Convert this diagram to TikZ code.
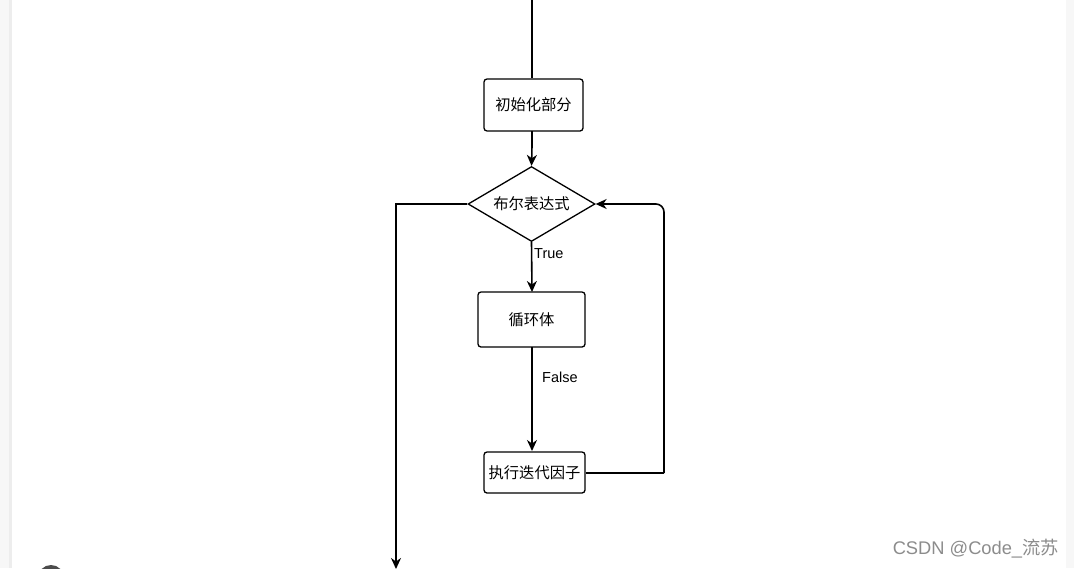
\documentclass[tikz,border=0pt]{standalone}
\usepackage{fontspec}
\setmainfont{Liberation Sans}
\newfontfamily\cjk{Noto Sans CJK SC}
\usetikzlibrary{arrows.meta,shapes.geometric,calc}
\begin{document}
\begin{tikzpicture}[x=1pt,y=-1pt,
  conn/.style={line width=1.6pt,-{Stealth[length=11pt,width=10pt,inset=3.5pt]}},
  line/.style={line width=1.6pt},
  procbox/.style={draw,line width=1.3pt,rounded corners=3pt,minimum width=#1,inner sep=0pt,
     font=\cjk\fontsize{15.3}{17}\selectfont},
  decision/.style={draw,diamond,shape aspect=1.7,line width=1.3pt,inner sep=0pt,minimum width=127pt,minimum height=75pt,
     font=\cjk\fontsize{15.3}{17}\selectfont},
  lbl/.style={font=\fontsize{14.5}{16}\selectfont,inner sep=0pt}]
\useasboundingbox (0,0) rectangle (1074,568);
\fill[white] (0,0) rectangle (1074,568);
\fill[black!3] (0,0) rectangle (9,568);
\fill[black!7] (9,0) rectangle (11.5,568);
\fill[black!3] (1066,0) rectangle (1074,568);
\fill[black!70] (51,578) circle (13);
% nodes
\coordinate (top) at (532,0);
\node[procbox=99pt,minimum height=52pt] (init) at (533.5,105) {初始化部分};
\node[decision] (cond) at (531.5,204) {布尔表达式};
\node[procbox=107pt,minimum height=55pt] (body) at (531.5,319.5) {循环体};
\node[procbox=101pt,minimum height=41pt] (iter) at (534.5,472.5) {执行迭代因子};
\coordinate (exitc) at (396,204);
\coordinate (exitend) at (396,569);
\coordinate (loopc) at (664,473);
% connectors
\draw[line width=2.2pt] (top) -- (top|-init.north);
\draw[conn] (532,131) .. controls (532,143) and (532,150) .. (cond.north);
\draw[conn] (cond.west) -- (exitc) -- (exitend);
\draw[conn] (cond.south) -- (532,292);
\draw[conn] (532,347) -- (532,451);
\draw[line] (iter.east |- 0,473) -- (loopc);
\draw[conn,rounded corners=8pt] (loopc) -- (664,204) -- (cond.east);
% labels
\node[lbl,anchor=west] (ltrue) at (534,254) {True};
\node[lbl,anchor=west] (lfalse) at (542,377) {False};
\node[font=\fontsize{18.3}{20}\selectfont,text=black!45,inner sep=0pt,anchor=east] (wm) at (1059,549) {CSDN @Code\_{\cjk 流苏}};
\end{tikzpicture}
\end{document}
